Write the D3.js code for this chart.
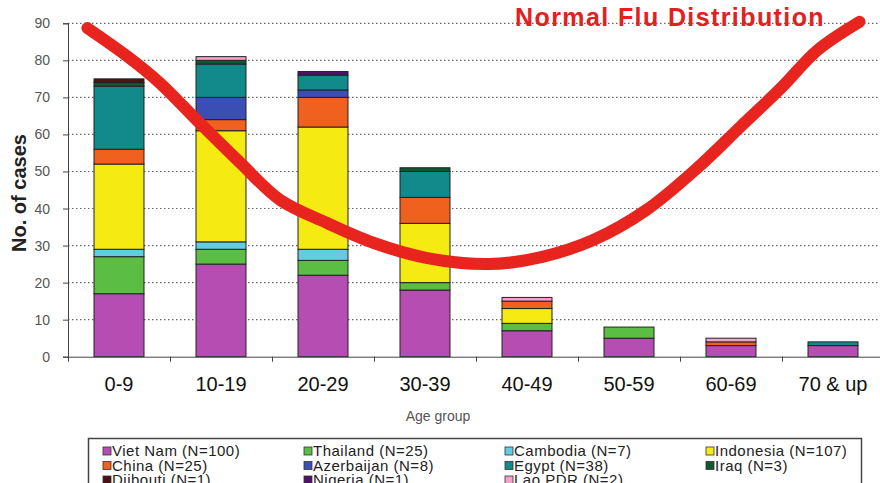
<!DOCTYPE html>
<html>
<head>
<meta charset="utf-8">
<script src="https://cdn.jsdelivr.net/npm/d3@7"></script>
<style>
  body { margin: 0; background: #fff; }
  svg { display: block; font-family: "Liberation Sans", Arial, sans-serif; }
</style>
</head>
<body>
<svg width="880" height="483"></svg>
<script>
// Age groups (x categories)
var ageGroups = ["0-9", "10-19", "20-29", "30-39", "40-49", "50-59", "60-69", "70 & up"];

// Countries, in stacking order (bottom first)
var countries = ["Viet Nam", "Thailand", "Cambodia", "Indonesia", "China", "Azerbaijan", "Egypt", "Iraq", "Djibouti", "Nigeria", "Lao PDR"];
var legendLabels = ["Viet Nam (N=100)", "Thailand (N=25)", "Cambodia (N=7)", "Indonesia (N=107)",
                    "China (N=25)", "Azerbaijan (N=8)", "Egypt (N=38)", "Iraq (N=3)",
                    "Djibouti (N=1)", "Nigeria (N=1)", "Lao PDR (N=2)"];
var colors = ["#b64db2", "#5cbd45", "#62cde0", "#f5ea12", "#f0601f", "#3a4eb3", "#12898b", "#0c5a32", "#4a1212", "#4e1268", "#f3a3c9"];

// cases per age group, one array per country
var vietNam    = [17, 25, 22, 18, 7, 5, 3, 3];
var thailand   = [10, 4, 4, 2, 2, 3, 0, 0];
var cambodia   = [2, 2, 3, 0, 0, 0, 0, 0];
var indonesia  = [23, 30, 33, 16, 4, 0, 0, 0];
var china      = [4, 3, 8, 7, 2, 0, 1, 0];
var azerbaijan = [0, 6, 2, 0, 0, 0, 0, 0];
var egypt      = [17, 9, 4, 7, 0, 0, 0, 1];
var iraq       = [1, 1, 0, 1, 0, 0, 0, 0];
var djibouti   = [1, 0, 0, 0, 0, 0, 0, 0];
var nigeria    = [0, 0, 1, 0, 0, 0, 0, 0];
var laoPDR     = [0, 1, 0, 0, 1, 0, 1, 0];
var seriesValues = [vietNam, thailand, cambodia, indonesia, china, azerbaijan, egypt, iraq, djibouti, nigeria, laoPDR];

// y ticks
var yTicks = [0, 10, 20, 30, 40, 50, 60, 70, 80, 90];

// hand drawn "normal flu" curve: position in age-group units (0 = centre of 0-9), value in cases
var curveAge   = [-0.31, 0.09, 0.40, 0.79, 1.19, 1.58, 2.04, 2.50, 3.01, 3.63, 4.14, 4.65, 5.17, 5.68, 6.09, 6.50, 6.85, 7.26];
var curveCases = [88.7, 80.9, 73.9, 63.1, 52.3, 42.3, 36.1, 30.7, 26.7, 25.0, 26.9, 31.5, 39.6, 51.2, 62.0, 72.8, 82.8, 90.4];

var svg = d3.select("svg");

var plotLeft = 68, plotRight = 884, plotTop = 23.3, plotBottom = 356.7;

var x = d3.scaleBand().domain(ageGroups).range([plotLeft, plotRight]).paddingInner(0.51).paddingOuter(0.255);
var xPos = d3.scaleLinear().domain([-0.5, 7.5]).range([plotLeft, plotRight]);
var y = d3.scaleLinear().domain([0, 90]).range([plotBottom, plotTop]);

// dotted gridlines
svg.append("g").selectAll("line").data(yTicks.slice(1)).join("line")
    .attr("x1", plotLeft).attr("x2", 880)
    .attr("y1", function(d) { return y(d); }).attr("y2", function(d) { return y(d); })
    .attr("stroke", "#666").attr("stroke-width", 1.2).attr("stroke-dasharray", "1.5,2.5");

// stacked bars
var rows = ageGroups.map(function(g, i) {
    var r = { group: g };
    countries.forEach(function(c, k) { r[c] = seriesValues[k][i]; });
    return r;
});
var stack = d3.stack().keys(countries)(rows);

svg.append("g").selectAll("g").data(stack).join("g")
    .attr("fill", function(d, k) { return colors[k]; })
  .selectAll("rect").data(function(d) { return d.filter(function(s) { return s[1] - s[0] > 0; }); }).join("rect")
    .attr("x", function(d) { return x(d.data.group); })
    .attr("width", x.bandwidth())
    .attr("y", function(d) { return y(d[1]); })
    .attr("height", function(d) { return y(d[0]) - y(d[1]); })
    .attr("stroke", "#222").attr("stroke-width", 1);

// y axis
var yAxis = svg.append("g").attr("transform", "translate(" + plotLeft + ",0)")
    .call(d3.axisLeft(y).tickValues(yTicks).tickSize(5).tickPadding(13));
yAxis.select(".domain").attr("stroke", "#444");
yAxis.selectAll(".tick line").attr("stroke", "#444");
yAxis.selectAll("text").attr("font-size", 14).attr("fill", "#555");

// x axis: boundary ticks
var xTicks = svg.append("g").attr("transform", "translate(0," + plotBottom + ")")
    .call(d3.axisBottom(xPos).tickValues(d3.range(0.5, 7.5, 1)).tickSize(5).tickFormat(""));
xTicks.select(".domain").attr("stroke", "#444");
xTicks.selectAll(".tick line").attr("stroke", "#444");

// x axis: labels
var xLabels = svg.append("g").attr("transform", "translate(0," + plotBottom + ")")
    .call(d3.axisBottom(x).tickSize(0).tickPadding(20));
xLabels.select(".domain").remove();
xLabels.selectAll("text").attr("font-size", 20).attr("fill", "#111");

// axis titles
svg.append("text").attr("x", 438).attr("y", 421).attr("text-anchor", "middle")
    .attr("font-size", 14).attr("fill", "#555").text("Age group");
svg.append("text").attr("transform", "translate(26,193) rotate(-90)").attr("text-anchor", "middle")
    .attr("font-size", 20).attr("font-weight", "bold").attr("fill", "#222").text("No. of cases");

// red curve and caption
var line = d3.line()
    .x(function(d, i) { return xPos(curveAge[i]); })
    .y(function(d) { return y(d); })
    .curve(d3.curveCatmullRom);
svg.append("path").datum(curveCases).attr("d", line)
    .attr("fill", "none").attr("stroke", "#e8241f").attr("stroke-width", 12)
    .attr("stroke-linecap", "round").attr("stroke-linejoin", "round");

svg.append("text").attr("x", 515).attr("y", 26)
    .attr("font-size", 25).attr("font-weight", "bold").attr("letter-spacing", 1.4)
    .attr("fill", "#e3201d").text("Normal Flu Distribution");

// legend
var legend = svg.append("g");
legend.append("rect").attr("x", 88.5).attr("y", 438.5).attr("width", 773).attr("height", 60)
    .attr("fill", "#fff").attr("stroke", "#444").attr("stroke-width", 1.5);

var items = legend.selectAll("g.item").data(legendLabels).join("g")
    .attr("transform", function(d, i) {
        return "translate(" + (103 + (i % 4) * 201) + "," + (456 + Math.floor(i / 4) * 14.5) + ")";
    });
items.append("rect").attr("x", 0).attr("y", -9).attr("width", 8).attr("height", 8)
    .attr("fill", function(d, i) { return colors[i]; })
    .attr("stroke", "#333").attr("stroke-width", 0.8);
items.append("text").attr("x", 9).attr("y", 0).attr("font-size", 15).attr("letter-spacing", 0.5)
    .attr("fill", "#222")
    .text(function(d) { return d; });
</script>
</body>
</html>
